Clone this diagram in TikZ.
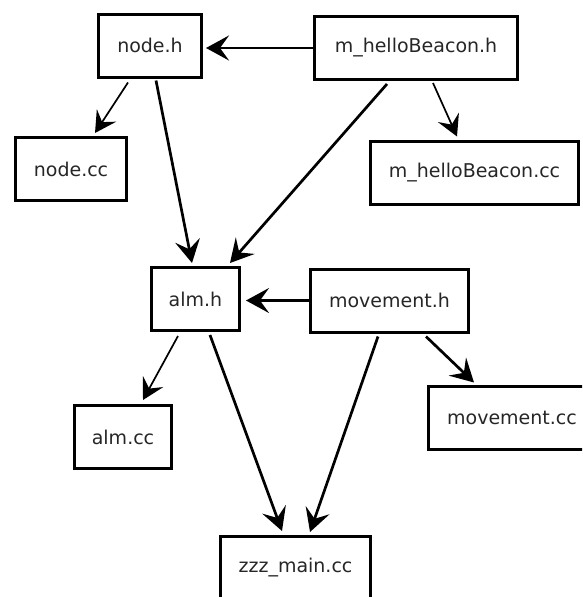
\documentclass[tikz,border=0pt]{standalone}
\usepackage{fontspec}
\newfontfamily\boxfont{DejaVu Sans}
\usetikzlibrary{arrows.meta}

\begin{document}
\begin{tikzpicture}
    [
    x=1pt, y=-1pt,
    file/.style={rectangle,draw,line width=3pt,minimum height=63pt,inner sep=0pt,
      text=black!85,font=\boxfont\fontsize{19}{22}\selectfont},
    dep/.style={line width=2.7pt,-{Stealth[length=23pt,width=25pt,inset=9pt]}},
    thindep/.style={line width=1.7pt,-{Stealth[length=21pt,width=23pt,inset=8pt]}},
    ]
    \useasboundingbox (0,0) rectangle (582,597);
    \clip (0,0) rectangle (582,597);

    \node (nodeh) at (150,45.5) [file,minimum width=103pt] {node.h};
    \node (beaconh) at (416,48) [file,minimum width=203pt] {m\_helloBeacon.h};
    \node (nodecc) at (71,169) [file,minimum width=111pt] {node.cc};
    \node (beaconcc) at (474.5,172.5) [file,minimum width=208pt] {m\_helloBeacon.cc};
    \node (almh) at (195.5,299) [file,minimum width=88pt] {alm.h};
    \node (moveh) at (389.5,300.5) [file,minimum width=158pt] {movement.h};
    \node (almcc) at (123,437) [file,minimum width=97pt] {alm.cc};
    \node (movecc) at (512,417.5) [file,minimum width=167pt] {movement.cc};
    \node (main) at (295.5,568) [file,minimum width=150pt] {zzz\_main.cc};

    \draw [dep,shorten >=3pt] (beaconh.west) to (beaconh.west -| nodeh.east);
    \draw [thindep] ([xshift=-22pt,yshift=-4pt]nodeh.south) to ([xshift=24pt,yshift=3pt]nodecc.north);
    \draw [dep] ([xshift=6pt,yshift=-2pt]nodeh.south) to ([xshift=-3.5pt,yshift=3pt]almh.north);
    \draw [dep] ([xshift=-29pt,yshift=-3pt]beaconh.south) to ([xshift=34.5pt,yshift=3pt]almh.north);
    \draw [thindep] ([xshift=17pt,yshift=-2pt]beaconh.south) to ([xshift=-17.5pt,yshift=3pt]beaconcc.north);
    \draw [dep,shorten >=5pt] (moveh.west) to (moveh.west -| almh.east);
    \draw [thindep] ([xshift=-17.5pt,yshift=-4pt]almh.south) to ([xshift=20pt,yshift=4pt]almcc.north);
    \draw [dep] ([xshift=14.5pt,yshift=-3pt]almh.south) to ([xshift=-13.5pt,yshift=4pt]main.north);
    \draw [dep] ([xshift=-11.5pt,yshift=-3pt]moveh.south) to ([xshift=14.5pt,yshift=3pt]main.north);
    \draw [dep] ([xshift=36.5pt,yshift=-3pt]moveh.south) to ([xshift=-38pt,yshift=2pt]movecc.north);
  \end{tikzpicture}
\end{document}
